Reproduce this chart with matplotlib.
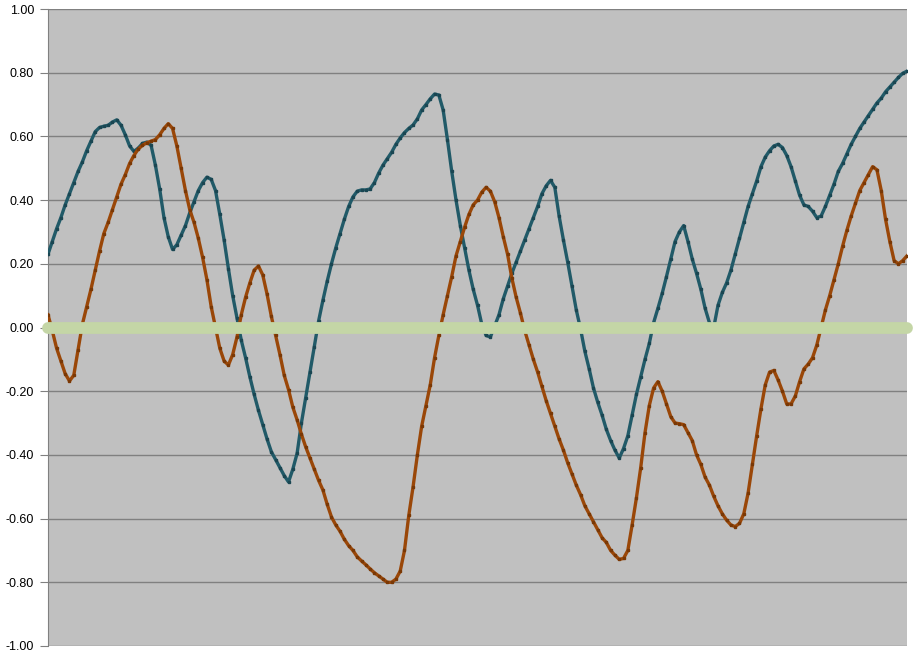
import matplotlib
matplotlib.use("Agg")
import matplotlib.pyplot as plt
import numpy as np

# values, evenly spaced samples left -> right
teal = [0.23, 0.27, 0.31, 0.345, 0.385, 0.42, 0.455, 0.49, 0.52, 0.555,
        0.585, 0.615, 0.628, 0.632, 0.635, 0.645, 0.652, 0.635, 0.605, 0.57,
        0.553, 0.563, 0.578, 0.582, 0.572, 0.51, 0.435, 0.345, 0.285, 0.245,
        0.26, 0.29, 0.32, 0.36, 0.395, 0.43, 0.455, 0.472, 0.465, 0.43,
        0.355, 0.275, 0.185, 0.10, 0.03, -0.04, -0.095, -0.155, -0.21, -0.26,
        -0.305, -0.35, -0.39, -0.415, -0.44, -0.465, -0.485, -0.445, -0.395, -0.30,
        -0.22, -0.14, -0.06, 0.02, 0.085, 0.145, 0.20, 0.25, 0.295, 0.34,
        0.38, 0.41, 0.428, 0.432, 0.432, 0.435, 0.455, 0.485, 0.51, 0.53,
        0.55, 0.575, 0.595, 0.612, 0.625, 0.636, 0.655, 0.683, 0.70, 0.718,
        0.733, 0.73, 0.683, 0.59, 0.49, 0.40, 0.32, 0.25, 0.18, 0.12,
        0.07, 0.01, -0.025, -0.03, 0.005, 0.04, 0.09, 0.13, 0.17, 0.205,
        0.24, 0.275, 0.31, 0.345, 0.38, 0.42, 0.445, 0.462, 0.44, 0.35,
        0.275, 0.205, 0.13, 0.055, -0.005, -0.075, -0.13, -0.19, -0.235, -0.275,
        -0.32, -0.355, -0.385, -0.41, -0.38, -0.34, -0.275, -0.21, -0.155, -0.10,
        -0.05, 0.015, 0.06, 0.107, 0.16, 0.215, 0.27, 0.30, 0.32, 0.27,
        0.215, 0.17, 0.12, 0.06, 0.015, 0.0, 0.07, 0.11, 0.14, 0.18,
        0.23, 0.28, 0.33, 0.38, 0.42, 0.46, 0.505, 0.535, 0.555, 0.57,
        0.575, 0.565, 0.54, 0.505, 0.46, 0.415, 0.385, 0.38, 0.365, 0.345,
        0.35, 0.38, 0.415, 0.45, 0.49, 0.515, 0.545, 0.575, 0.60, 0.625,
        0.645, 0.665, 0.685, 0.705, 0.72, 0.74, 0.755, 0.77, 0.785, 0.798,
        0.805]

orange = [0.04, -0.01, -0.065, -0.105, -0.145, -0.168, -0.15, -0.07, 0.01, 0.065,
          0.12, 0.18, 0.24, 0.295, 0.33, 0.37, 0.41, 0.45, 0.48, 0.515,
          0.54, 0.56, 0.572, 0.58, 0.585, 0.59, 0.605, 0.625, 0.64, 0.625,
          0.57, 0.50, 0.43, 0.37, 0.33, 0.28, 0.22, 0.15, 0.065, 0.0,
          -0.065, -0.105, -0.118, -0.085, -0.03, 0.04, 0.095, 0.14, 0.18, 0.193,
          0.165, 0.105, 0.035, -0.025, -0.085, -0.15, -0.195, -0.25, -0.29, -0.335,
          -0.375, -0.41, -0.445, -0.48, -0.51, -0.555, -0.595, -0.62, -0.64, -0.665,
          -0.685, -0.70, -0.72, -0.733, -0.745, -0.758, -0.77, -0.78, -0.79, -0.80,
          -0.80, -0.79, -0.765, -0.70, -0.59, -0.50, -0.40, -0.31, -0.245, -0.18,
          -0.095, -0.025, 0.04, 0.10, 0.16, 0.225, 0.27, 0.315, 0.355, 0.385,
          0.40, 0.425, 0.44, 0.428, 0.395, 0.345, 0.285, 0.23, 0.155, 0.095,
          0.045, -0.01, -0.055, -0.10, -0.14, -0.185, -0.23, -0.27, -0.31, -0.35,
          -0.385, -0.425, -0.46, -0.495, -0.525, -0.56, -0.585, -0.61, -0.635, -0.66,
          -0.675, -0.70, -0.715, -0.728, -0.725, -0.70, -0.62, -0.535, -0.44, -0.33,
          -0.245, -0.19, -0.17, -0.20, -0.24, -0.28, -0.30, -0.302, -0.305, -0.33,
          -0.355, -0.40, -0.43, -0.47, -0.495, -0.53, -0.56, -0.585, -0.605, -0.62,
          -0.625, -0.615, -0.585, -0.52, -0.43, -0.34, -0.255, -0.18, -0.14, -0.135,
          -0.165, -0.20, -0.24, -0.24, -0.215, -0.17, -0.13, -0.115, -0.095, -0.055,
          0.0, 0.055, 0.10, 0.15, 0.20, 0.255, 0.305, 0.35, 0.39, 0.43,
          0.455, 0.48, 0.505, 0.495, 0.43, 0.34, 0.27, 0.21, 0.20, 0.21,
          0.225]

baseline = 0.0
yticks = [-1.0, -0.8, -0.6, -0.4, -0.2, 0.0, 0.2, 0.4, 0.6, 0.8, 1.0]

TEAL = "#215a68"
ORANGE = "#9a4708"
GREEN = "#c4d6a6"
GRID = "#808080"


def main():
    fig = plt.figure(figsize=(9.18, 6.51), dpi=100)
    ax = fig.add_axes([48 / 918, 1 - 646 / 651, (907 - 48) / 918, 637 / 651])
    ax.set_facecolor("#c0c0c0")

    x = np.arange(len(teal))
    ax.plot(x, teal, color=TEAL, lw=2.4, marker="s", ms=1.6,
            mfc="#1a4652", mec="#1a4652", zorder=3)
    ax.plot(x, orange, color=ORANGE, lw=2.4, marker="s", ms=1.6,
            mfc="#7a3805", mec="#7a3805", zorder=3)
    # thick zero series drawn on top of the two curves
    ax.axhline(baseline, color=GREEN, lw=8.5, solid_capstyle="round",
               clip_on=False, zorder=4)

    ax.set_xlim(0, len(teal) - 1)
    ax.set_ylim(-1, 1)
    ax.set_yticks(yticks)
    ax.set_yticklabels([f"{v:.2f}" for v in yticks], fontsize=9,
                       family="Liberation Sans")
    ax.set_xticks([])
    ax.yaxis.grid(True, color=GRID, lw=1)
    ax.set_axisbelow(True)

    for side in ("top", "right", "bottom"):
        ax.spines[side].set_visible(False)
    ax.spines["left"].set_color(GRID)
    ax.tick_params(axis="y", direction="out", length=6, color=GRID, pad=4)

    fig.savefig("out.png", dpi=100)
    plt.close(fig)


if __name__ == "__main__":
    main()
